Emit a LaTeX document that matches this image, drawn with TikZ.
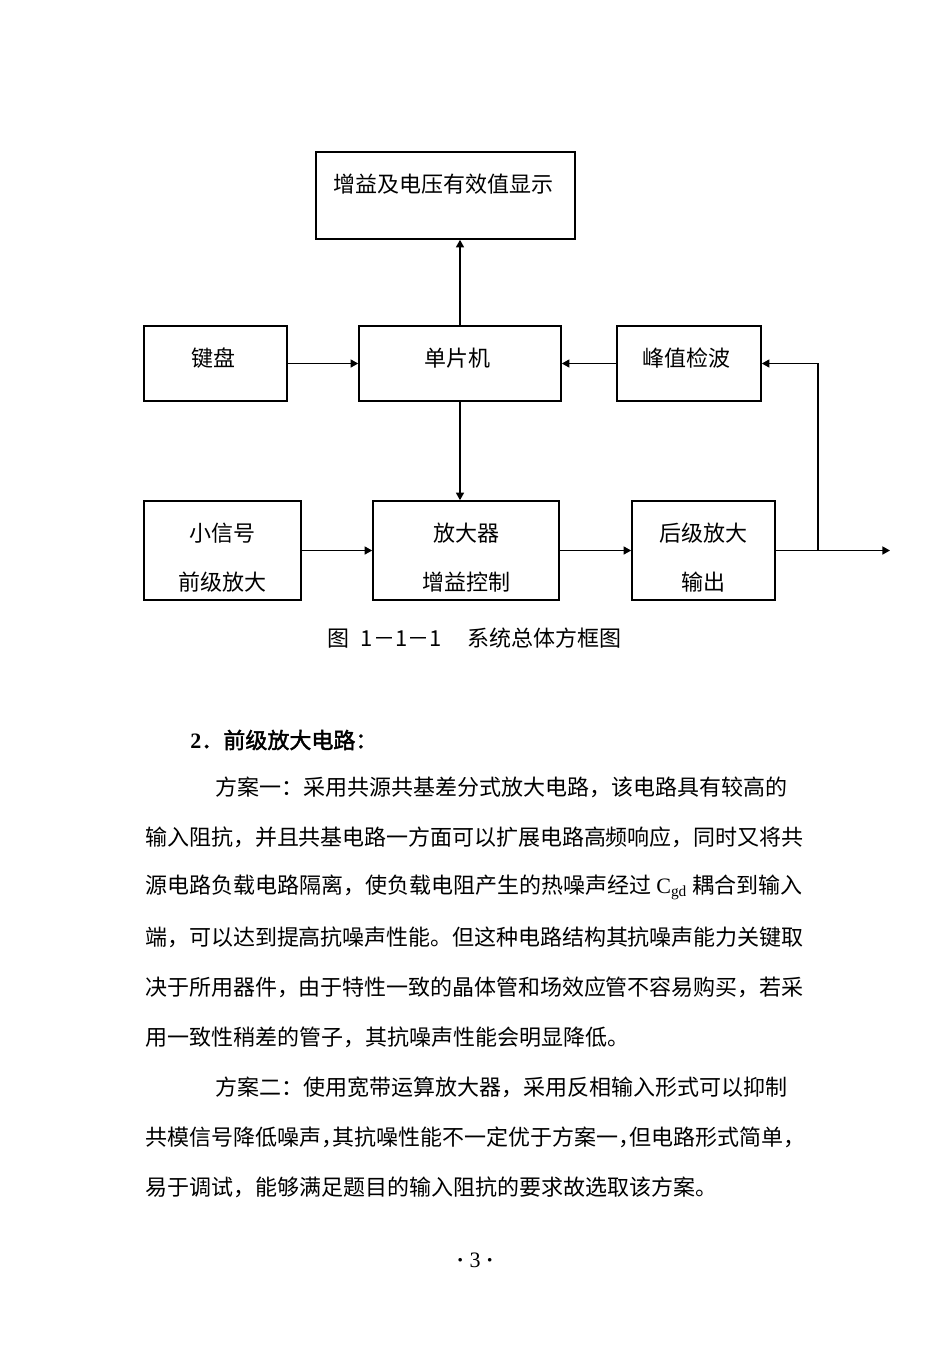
\documentclass[tikz,border=0pt]{standalone}
\usepackage{fontspec}
\setmainfont{Noto Sans CJK SC}
\newfontfamily\latinfont{Liberation Serif}
\newfontfamily\headfont[FakeBold=2]{Noto Sans CJK SC}
\usepackage{tikz}
\usetikzlibrary{positioning}
\usetikzlibrary{arrows.meta}
\XeTeXlinebreaklocale "zh"
\XeTeXlinebreakskip=0pt plus 2pt minus 0.2pt
\setlength{\parindent}{0pt}
\newcommand\fullline{\parfillskip=0pt\relax}
\newcommand\halfcomma{\makebox[0.5em][l]{，}}
\newcommand\lowstrut{\rule{0pt}{16.7pt}}

\begin{document}
\begin{tikzpicture}[x=0.5pt, y=-0.5pt,
    font=\fontsize{11pt}{13pt}\selectfont,
    block/.style={draw, line width=0.8pt, inner sep=0pt, align=center},
    oneline/.style={block, text height=9.7pt, text depth=6.8pt},
    twoline/.style={block, font=\fontsize{11pt}{24.5pt}\selectfont},
    link/.style={line width=0.75pt, -{Triangle[length=3.8pt, width=4pt]}},
    bodyline/.style={anchor=west, inner sep=0pt, align=justify},
    lastline/.style={anchor=west, inner sep=0pt}]
    \fill[white] (0,0) rectangle (950,1345);
    % blocks of the diagram
    \path
        node (disp) at (445.5,195.5) [block, minimum width=129.5pt, minimum height=43.5pt,
            text height=9.7pt, text depth=12.8pt] { 增益及电压有效值显示 }
        node (keys) at (215.5,363.5) [oneline, minimum width=71.5pt, minimum height=37.5pt] { 键盘 }
        node (mcu)  at (460,363.5)   [oneline, minimum width=101pt, minimum height=37.5pt] { 单片机 }
        node (peak) at (689,363.5)   [oneline, minimum width=72pt, minimum height=37.5pt] { 峰值检波 }
        node (pre)  at (222.5,550.5) [twoline, minimum width=78.5pt, minimum height=49.5pt] { \lowstrut 小信号\\前级放大 }
        node (amp)  at (466,550.5)   [twoline, minimum width=93pt, minimum height=49.5pt] { \lowstrut 放大器\\增益控制 }
        node (post) at (703.5,550.5) [twoline, minimum width=71.5pt, minimum height=49.5pt] { \lowstrut 后级放大\\输出 };
    \coordinate (branch) at (818,550.5);
    \coordinate (out) at (890,550.5);
    % connectors
    \draw[link] (mcu.north) -- (mcu.north |- disp.south);
    \draw[link] (keys) -- (mcu);
    \draw[link] (peak) -- (mcu);
    \draw[link] (mcu.south) -- (mcu.south |- amp.north);
    \draw[link] (pre) -- (amp);
    \draw[link] (amp) -- (post);
    \draw[link] (post) -- (out);
    \draw[link] (branch) |- (peak);
    % caption and body text
    \path
        node (cap)  at (475,638) { 图\hspace{0.5em}1－1－1\hspace{1.2em}系统总体方框图 }
        node (head) at (190,740) [lastline] { {\latinfont\bfseries 2}{\headfont ．前级放大电路：} }
        node (l1) at (215,787)  [bodyline, text width=294pt] {\fullline 方案一：采用共源共基差分式放大电路，该电路具有较高的}
        node (l2) at (145,837)  [bodyline, text width=329pt] {\fullline 输入阻抗，并且共基电路一方面可以扩展电路高频响应，同时又将共}
        node (l3) at (145,887)  [bodyline, text width=329pt] {\fullline 源电路负载电路隔离，使负载电阻产生的热噪声经过 {\latinfont C\textsubscript{gd}} 耦合到输入}
        node (l4) at (145,937)  [bodyline, text width=329pt] {\fullline 端，可以达到提高抗噪声性能。但这种电路结构其抗噪声能力关键取}
        node (l5) at (145,987)  [bodyline, text width=329pt] {\fullline 决于所用器件，由于特性一致的晶体管和场效应管不容易购买，若采}
        node (l6) at (145,1037) [lastline] { 用一致性稍差的管子，其抗噪声性能会明显降低。 }
        node (l7) at (215,1087) [bodyline, text width=294pt] {\fullline 方案二：使用宽带运算放大器，采用反相输入形式可以抑制}
        node (l8) at (145,1137) [bodyline, text width=329pt] {\fullline 共模信号降低噪声\halfcomma 其抗噪性能不一定优于方案一\halfcomma 但电路形式简单\halfcomma}
        node (l9) at (145,1187) [lastline] { 易于调试，能够满足题目的输入阻抗的要求故选取该方案。 }
        node (page) at (475,1260) { \latinfont{\bfseries ·} 3 {\bfseries ·} };
\end{tikzpicture}
\end{document}
